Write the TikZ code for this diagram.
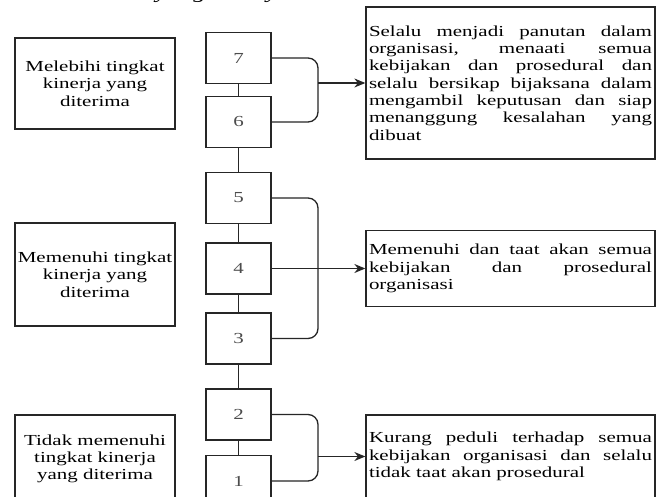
\documentclass[tikz,border=0pt]{standalone}
\usepackage{fontspec}
\setmainfont{Liberation Serif}[FakeStretch=1.37]
\usetikzlibrary{arrows.meta}
\newlength{\jw}\setlength{\jw}{283pt}
\newcommand{\jline}[1]{\makebox[\jw][s]{#1}}
\newcommand{\fs}{\fontsize{15.3}{17.3}\selectfont}
\begin{document}
\begin{tikzpicture}[x=1pt,y=-1pt,
  lvl/.style={draw=black!85, line width=1.3pt, minimum width=160pt, align=center, font=\fs, inner sep=0pt},
  num/.style={draw=black!85, line width=1.3pt, minimum width=65pt, minimum height=51pt, font=\fs, text=black!70},
  desc/.style={draw=black!85, line width=1.3pt, minimum width=289pt, align=left, font=\fs, inner sep=3pt},
  link/.style={draw=black!85, line width=1.3pt},
  brk/.style={link, rounded corners=10pt},
  arr/.style={link, -{Stealth[length=11pt,width=9pt]}}]
\path[use as bounding box, fill=white] (0,0) rectangle (663,497);

% clipped line of text at the top
\node[anchor=base west, inner sep=0pt, font=\fontsize{19}{21}\selectfont\itshape] (top) at (14,-1) {berbeda dari yang lainnya.};

% left level boxes
\node[lvl, minimum height=91pt]  (la) at (95,83.5)  {Melebihi tingkat\\kinerja yang\\diterima};
\node[lvl, minimum height=103pt] (lb) at (95,274.5) {Memenuhi tingkat\\kinerja yang\\diterima};
\node[lvl, minimum height=88pt]  (lc) at (95,459)   {Tidak memenuhi\\tingkat kinerja\\yang diterima};

% numbered boxes
\node[num] (b7) at (238.5,58)    {7};
\node[num] (b6) at (238.5,122)   {6};
\node[num] (b5) at (238.5,198)   {5};
\node[num] (b4) at (238.5,268.5) {4};
\node[num] (b3) at (238.5,338.5) {3};
\node[num] (b2) at (238.5,414.5) {2};
\node[num] (b1) at (238.5,481)   {1};

% description boxes
\node[desc, minimum height=152pt] (r1) at (510.5,83) {%
\jline{Selalu menjadi panutan dalam}\\
\jline{organisasi, menaati semua}\\
\jline{kebijakan dan prosedural dan}\\
\jline{selalu bersikap bijaksana dalam}\\
\jline{mengambil keputusan dan siap}\\
\jline{menanggung kesalahan yang}\\
dibuat};
\node[desc, minimum height=76pt] (r2) at (510.5,268.5) {%
\jline{Memenuhi dan taat akan semua}\\
\jline{kebijakan dan prosedural}\\
organisasi};
\node[desc, minimum height=83pt] (r3) at (510.5,456.5) {%
\jline{Kurang peduli terhadap semua}\\
\jline{kebijakan organisasi dan selalu}\\
tidak taat akan prosedural};

% vertical chain
\draw[link] (b7) -- (b6);
\draw[link] (b6) -- (b5);
\draw[link] (b5) -- (b4);
\draw[link] (b4) -- (b3);
\draw[link] (b3) -- (b2);
\draw[link] (b2) -- (b1);

% brackets and arrows
\coordinate (j1) at (318,83);
\coordinate (j2) at (318,268.5);
\coordinate (j3) at (318,456.5);
\draw[brk] (b7.east) -| (j1) |- (b6.east);
\draw[arr] (j1) -- (r1.west);
\draw[brk] (b5.east) -| (j2) |- (b3.east);
\draw[arr] (b4.east) -- (r2.west);
\draw[brk] (b2.east) -| (j3) |- (b1.east);
\draw[arr] (j3) -- (r3.west);
\end{tikzpicture}
\end{document}
